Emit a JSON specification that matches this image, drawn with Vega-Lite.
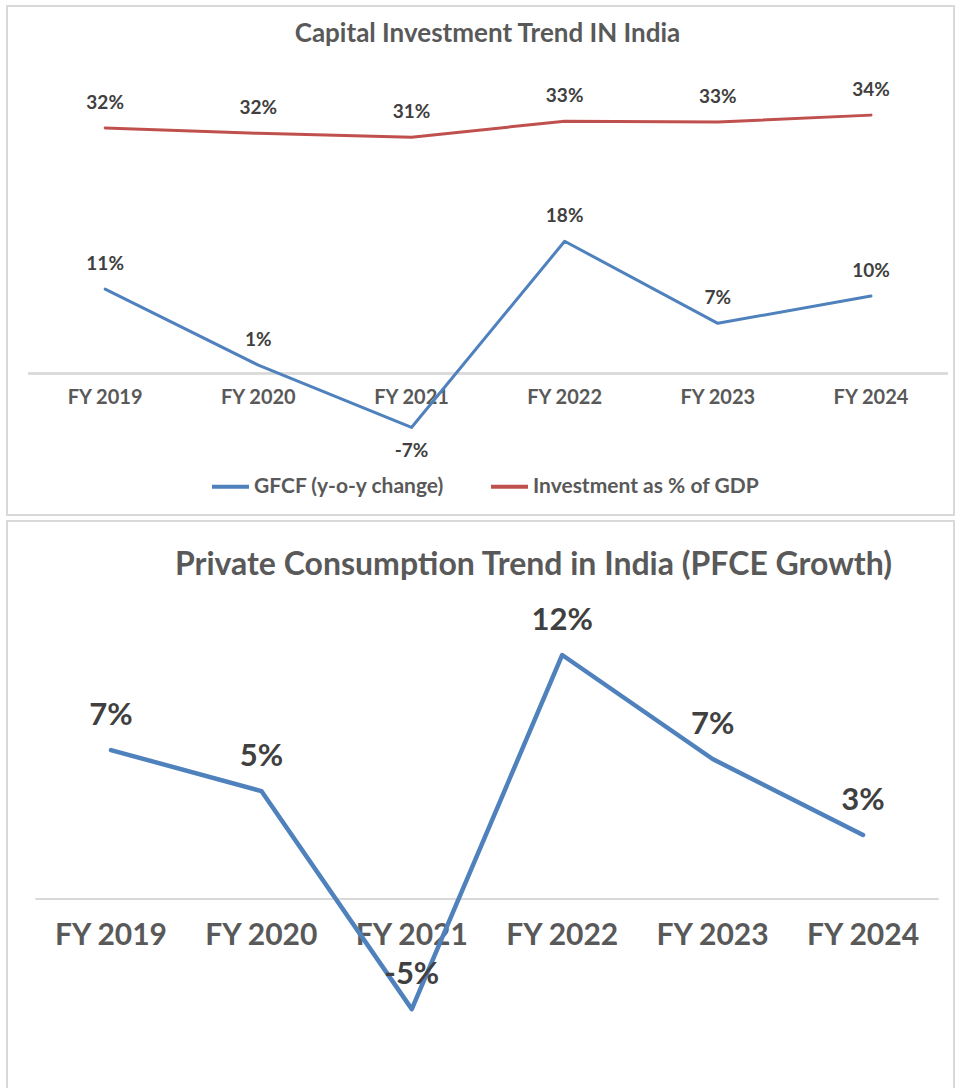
{
  "$schema": "https://vega.github.io/schema/vega-lite/v6.json",
  "padding": {"left": 6, "top": 5, "right": 0, "bottom": 0},
  "spacing": 4,
  "config": {
    "font": "Lato",
    "view": {"stroke": "#d9d9d9", "strokeWidth": 2},
    "title": {"font": "Lato", "fontWeight": "bold", "color": "#595959", "anchor": "middle", "baseline": "middle"},
    "axisX": {"title": null, "domain": false, "ticks": false, "grid": false, "labelAngle": 0, "labelBaseline": "middle", "labelFont": "Lato", "labelFontWeight": "bold", "labelColor": "#595959"}
  },
  "datasets": {
    "capital": [
      {"year": "FY 2019", "series": "GFCF (y-o-y change)", "value": 11.1, "label": "11%"},
      {"year": "FY 2020", "series": "GFCF (y-o-y change)", "value": 1.1, "label": "1%"},
      {"year": "FY 2021", "series": "GFCF (y-o-y change)", "value": -7.1, "label": "-7%"},
      {"year": "FY 2022", "series": "GFCF (y-o-y change)", "value": 17.4, "label": "18%"},
      {"year": "FY 2023", "series": "GFCF (y-o-y change)", "value": 6.6, "label": "7%"},
      {"year": "FY 2024", "series": "GFCF (y-o-y change)", "value": 10.2, "label": "10%"},
      {"year": "FY 2019", "series": "Investment as % of GDP", "value": 32.3, "label": "32%"},
      {"year": "FY 2020", "series": "Investment as % of GDP", "value": 31.6, "label": "32%"},
      {"year": "FY 2021", "series": "Investment as % of GDP", "value": 31.1, "label": "31%"},
      {"year": "FY 2022", "series": "Investment as % of GDP", "value": 33.2, "label": "33%"},
      {"year": "FY 2023", "series": "Investment as % of GDP", "value": 33.1, "label": "33%"},
      {"year": "FY 2024", "series": "Investment as % of GDP", "value": 34.0, "label": "34%"}
    ],
    "pfce": [
      {"year": "FY 2019", "value": 7.16, "label": "7%"},
      {"year": "FY 2020", "value": 5.19, "label": "5%"},
      {"year": "FY 2021", "value": -5.29, "label": "-5%"},
      {"year": "FY 2022", "value": 11.73, "label": "12%"},
      {"year": "FY 2023", "value": 6.73, "label": "7%"},
      {"year": "FY 2024", "value": 3.08, "label": "3%"}
    ]
  },
  "vconcat": [
    {
      "width": 947,
      "height": 509,
      "title": {"text": "Capital Investment Trend IN India", "fontSize": 26, "offset": -41, "dx": 7},
      "data": {"name": "capital"},
      "layer": [
        {
          "mark": {"type": "rule", "color": "#d9d9d9", "strokeWidth": 1.5},
          "encoding": {
            "x": {"datum": "FY 2019", "type": "nominal", "bandPosition": 0, "axis": {"offset": -141.5, "labelPadding": 24, "labelFontSize": 20}},
            "x2": {"datum": "FY 2024", "bandPosition": 1},
            "y": {"datum": 0, "type": "quantitative", "axis": null}
          }
        },
        {
          "mark": {"type": "line", "strokeWidth": 3, "strokeCap": "round", "strokeJoin": "round"},
          "encoding": {
            "x": {
              "field": "year", "type": "nominal",
              "scale": {"type": "band", "domain": ["FY 2019", "FY 2020", "FY 2021", "FY 2022", "FY 2023", "FY 2024"], "paddingInner": 0, "paddingOuter": 0.0915, "align": 0.77},
              "axis": {"offset": -141.5, "labelPadding": 24, "labelFontSize": 20}
            },
            "y": {"field": "value", "type": "quantitative", "scale": {"domain": [-18.62, 48.36], "nice": false, "zero": false}, "axis": null},
            "color": {
              "field": "series", "type": "nominal",
              "scale": {"domain": ["GFCF (y-o-y change)", "Investment as % of GDP"], "range": ["#4f81bd", "#c0504d"]},
              "legend": {"orient": "none", "legendX": 203, "legendY": 460, "direction": "horizontal", "title": null, "symbolType": "stroke", "symbolSize": 1369, "symbolStrokeWidth": 4, "labelFont": "Lato", "labelFontSize": 21, "labelFontWeight": "bold", "labelColor": "#595959", "labelOffset": 3, "labelLimit": 0, "columnPadding": 38}
            }
          }
        },
        {
          "transform": [{"filter": "datum.value >= 0"}],
          "mark": {"type": "text", "dy": -25, "font": "Lato", "fontSize": 19, "fontWeight": "bold", "color": "#404040"},
          "encoding": {
            "x": {"field": "year", "type": "nominal", "axis": {"offset": -141.5, "labelPadding": 24, "labelFontSize": 20}},
            "y": {"field": "value", "type": "quantitative", "axis": null},
            "text": {"field": "label"}
          }
        },
        {
          "transform": [{"filter": "datum.value < 0"}],
          "mark": {"type": "text", "dy": 24, "font": "Lato", "fontSize": 19, "fontWeight": "bold", "color": "#404040"},
          "encoding": {
            "x": {"field": "year", "type": "nominal", "axis": {"offset": -141.5, "labelPadding": 24, "labelFontSize": 20}},
            "y": {"field": "value", "type": "quantitative", "axis": null},
            "text": {"field": "label"}
          }
        }
      ]
    },
    {
      "width": 947,
      "height": 568,
      "title": {"text": "Private Consumption Trend in India (PFCE Growth)", "fontSize": 32, "offset": -61, "dx": 53},
      "data": {"name": "pfce"},
      "layer": [
        {
          "mark": {"type": "rule", "color": "#d9d9d9", "strokeWidth": 2},
          "encoding": {
            "x": {"datum": "FY 2019", "type": "nominal", "bandPosition": 0, "axis": {"offset": -190, "labelPadding": 36, "labelFontSize": 30}},
            "x2": {"datum": "FY 2024", "bandPosition": 1},
            "y": {"datum": 0, "type": "quantitative", "axis": null}
          }
        },
        {
          "mark": {"type": "line", "strokeWidth": 4.5, "strokeCap": "round", "strokeJoin": "round", "color": "#4f81bd"},
          "encoding": {
            "x": {
              "field": "year", "type": "nominal",
              "scale": {"type": "band", "domain": ["FY 2019", "FY 2020", "FY 2021", "FY 2022", "FY 2023", "FY 2024"], "paddingInner": 0, "paddingOuter": 0.148, "align": 0.646},
              "axis": {"offset": -190, "labelPadding": 36, "labelFontSize": 30}
            },
            "y": {"field": "value", "type": "quantitative", "scale": {"domain": [-9.13, 18.17], "nice": false, "zero": false}, "axis": null}
          }
        },
        {
          "mark": {"type": "text", "dy": -34, "font": "Lato", "fontSize": 31, "fontWeight": "bold", "color": "#404040"},
          "encoding": {
            "x": {"field": "year", "type": "nominal", "axis": {"offset": -190, "labelPadding": 36, "labelFontSize": 30}},
            "y": {"field": "value", "type": "quantitative", "axis": null},
            "text": {"field": "label"}
          }
        }
      ]
    }
  ]
}
